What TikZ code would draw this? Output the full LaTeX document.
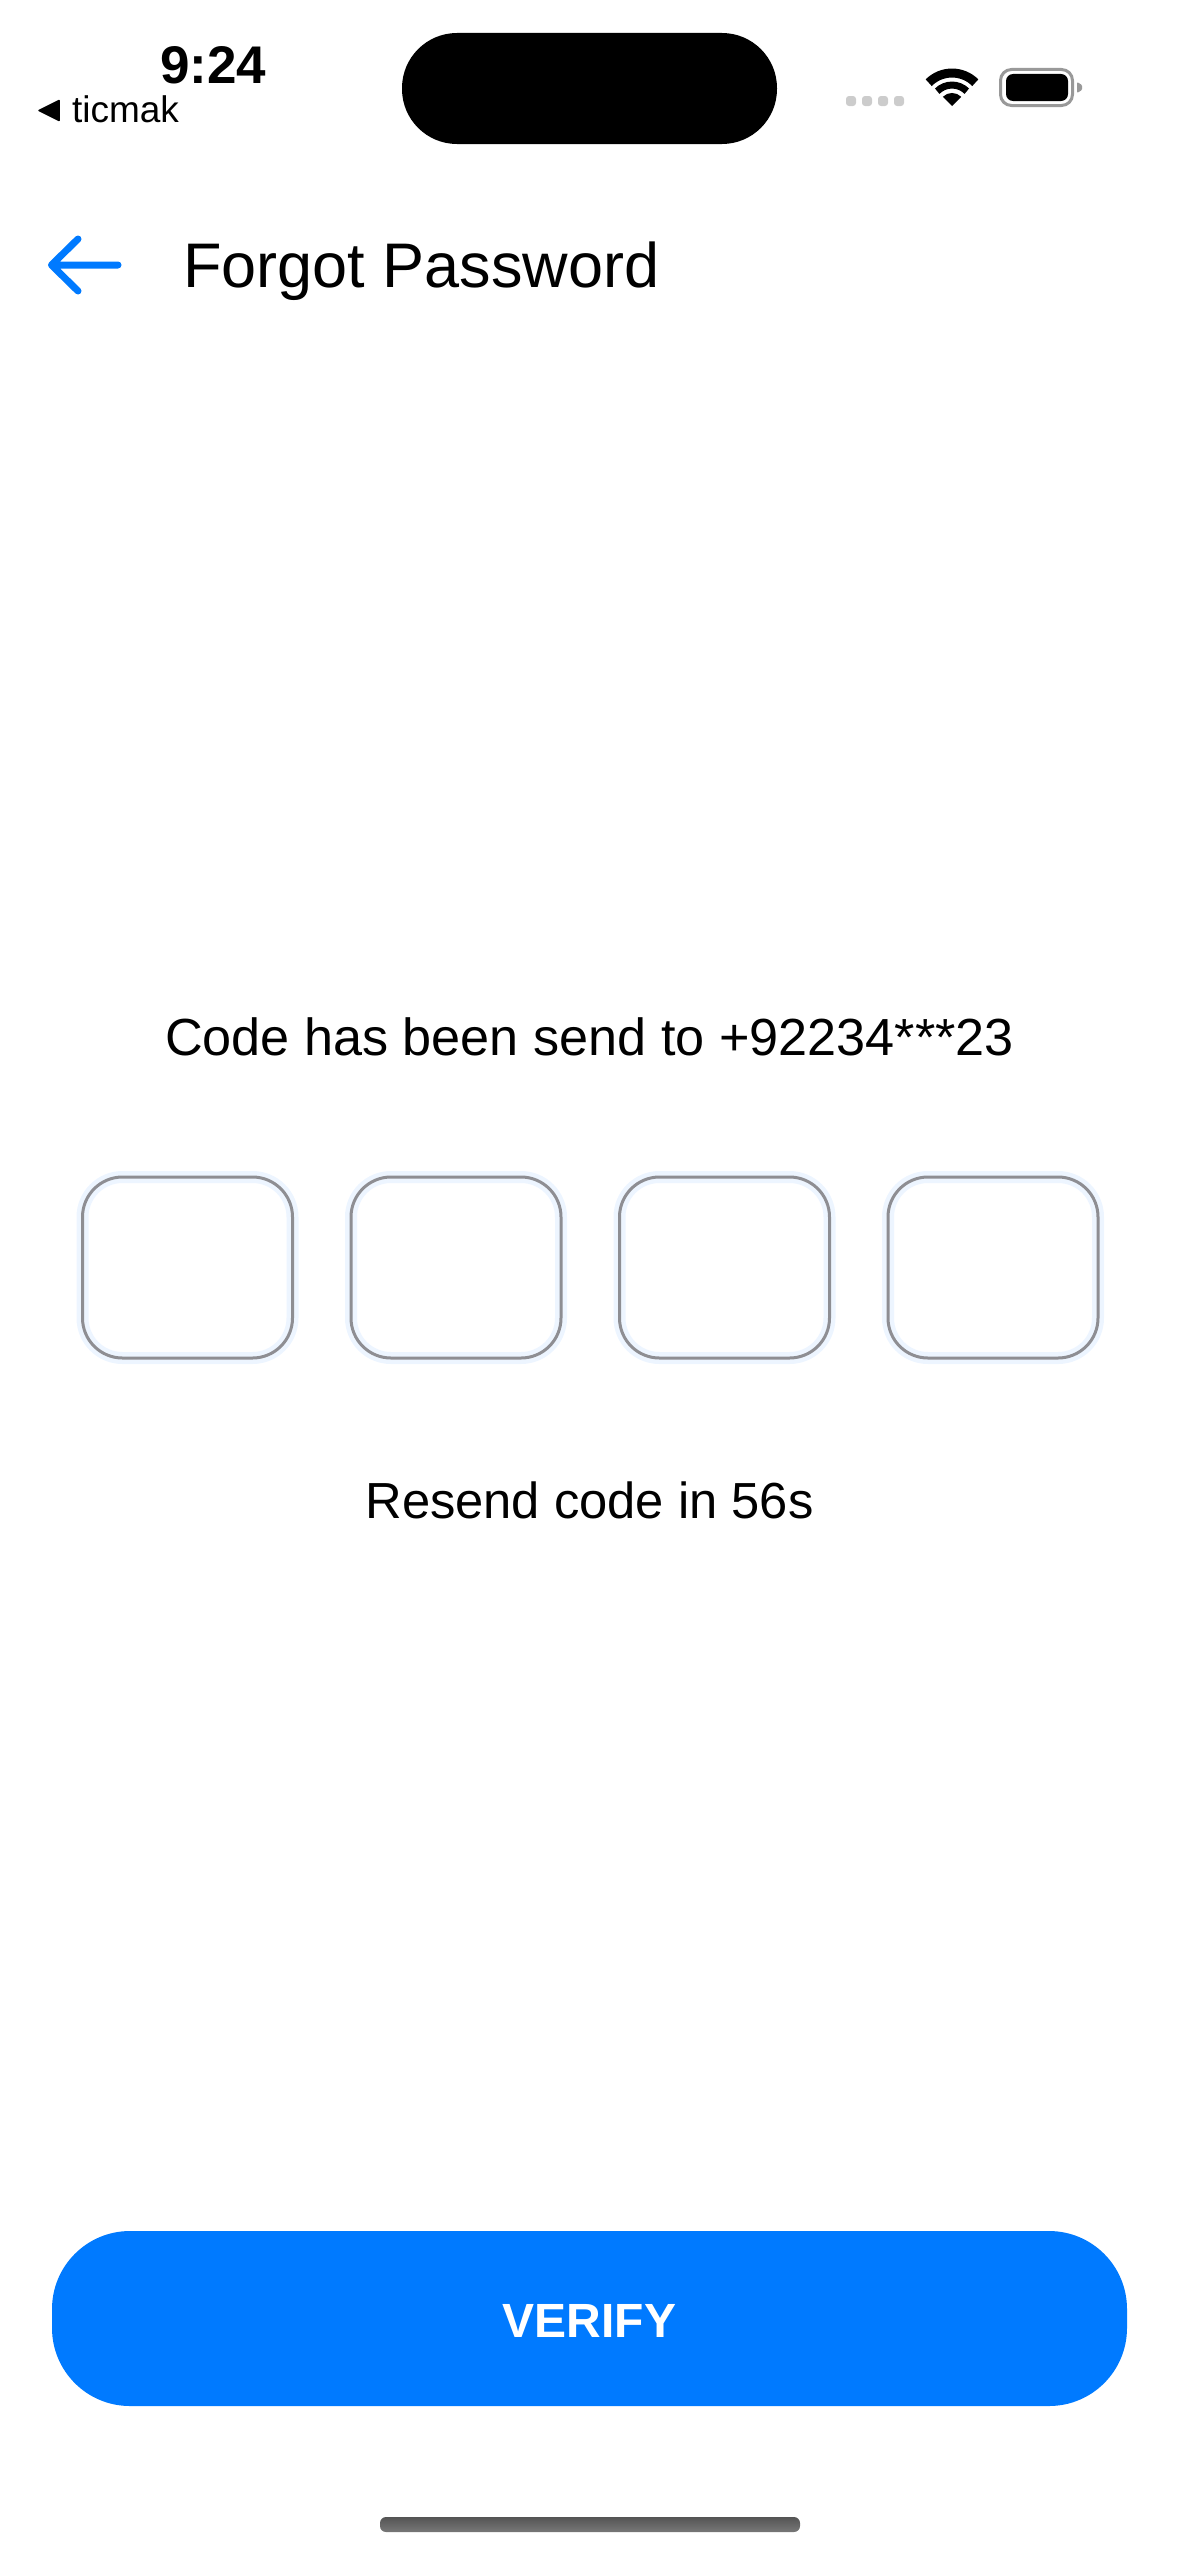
\documentclass[tikz,border=0pt]{standalone}
\usepackage{fontspec}
\setmainfont{Liberation Sans}
\usetikzlibrary{arrows.meta}
\definecolor{appblue}{HTML}{007AFF}
\definecolor{boxgray}{HTML}{8E8E93}
\definecolor{boxglow}{HTML}{EDF5FF}
\definecolor{dotgray}{HTML}{CCCCCC}
\definecolor{battgray}{HTML}{999999}
\tikzset{
    txt/.style={inner sep=0pt, outer sep=0pt, text=black, font=\fontsize{#1}{#1}\selectfont},
    boldtxt/.style={inner sep=0pt, outer sep=0pt, font=\fontsize{#1}{#1}\selectfont\bfseries},
    solidshape/.style={draw=none, inner sep=0pt, outer sep=0pt},
    codebox/.style={solidshape, fill=white, draw=boxglow, line width=12pt, rounded corners=40pt,
        minimum width=210pt, minimum height=181pt,
        postaction={draw=boxgray, line width=3pt}},
    signaldot/.style={solidshape, fill=dotgray, rounded corners=3pt, minimum width=10pt, minimum height=10pt},
    wifibar/.style={draw=black, line width=#1}
}

\begin{document}
\begin{tikzpicture}[x=1pt, y=-1pt, >=Stealth]
    \useasboundingbox (0, 0) rectangle (1179, 2556);

    % status bar
    \node[boldtxt=53, anchor=base west] (time) at (160, 83) {9:24};
    \node[txt=37, anchor=base west] (backapp) at (72, 122) {ticmak};
    \coordinate (tritip) at (39, 110.5);
    \coordinate (tritop) at (59, 100.5);
    \coordinate (tribot) at (59, 120.5);
    \fill[draw=black, line width=1.5pt, line join=round] (tritip) -- (tritop) -- (tribot) -- cycle;
    \node[solidshape, fill=black, rounded corners=55pt, minimum width=375pt, minimum height=111pt] (island) at (589.5, 88.5) {};

    % signal dots
    \node[signaldot] (dot1) at (851, 101) {};
    \node[signaldot] (dot2) at (867, 101) {};
    \node[signaldot] (dot3) at (883, 101) {};
    \node[signaldot] (dot4) at (899, 101) {};

    % wifi
    \draw[wifibar=9pt] (928.7, 82.7) .. controls (941.6, 69.8) and (962.4, 69.8) .. (975.3, 82.7);
    \draw[wifibar=7pt] (937.2, 91.2) .. controls (945.4, 83) and (958.6, 83) .. (966.8, 91.2);
    \fill[black] (952, 106) -- (942.8, 96.8) .. controls (947.9, 91.7) and (956.1, 91.7) .. (961.2, 96.8) -- cycle;

    % battery
    \node[solidshape, draw=battgray, line width=3pt, fill=white, rounded corners=11pt, minimum width=72pt, minimum height=36pt] (battery) at (1036.5, 87.5) {};
    \node[solidshape, fill=black, rounded corners=7pt, minimum width=62pt, minimum height=27pt] (charge) at (1037, 87.5) {};
    \fill[battgray, rounded corners=1pt] (1077, 82) -- (1082, 85) -- (1082, 90) -- (1077, 93) -- cycle;

    % header
    \coordinate (backtip) at (51.5, 265);
    \coordinate (backtail) at (118, 265);
    \coordinate (backup) at (78, 239);
    \coordinate (backdown) at (78, 291);
    \draw[appblue, line width=7pt, line cap=round, line join=round] (backup) -- (backtip) -- (backdown) (backtail) -- (backtip);
    \node[txt=63, anchor=base west] (title) at (183, 287) {Forgot Password};

    % code boxes
    \node[txt=52.2, anchor=base] (sent) at (589.5, 1055) {Code has been send to +92234***23};
    \node[codebox] (digit1) at (187.5, 1267.5) {};
    \node[codebox] (digit2) at (456, 1267.5) {};
    \node[codebox] (digit3) at (724.5, 1267.5) {};
    \node[codebox] (digit4) at (993, 1267.5) {};
    \node[txt=50.7, anchor=base] (resend) at (589.5, 1518) {Resend code in 56s};

    % button
    \node[solidshape, fill=appblue, rounded corners=78pt, minimum width=1075pt, minimum height=175pt] (verify) at (589.5, 2318.5) {};
    \node[boldtxt=48, text=white, anchor=base] (verifytxt) at (589.5, 2337) {VERIFY};

    % home bar
    \node[solidshape, top color=black!67, bottom color=black!53, rounded corners=6pt, minimum width=420pt, minimum height=15pt] (homebar) at (590, 2524.5) {};
\end{tikzpicture}
\end{document}
